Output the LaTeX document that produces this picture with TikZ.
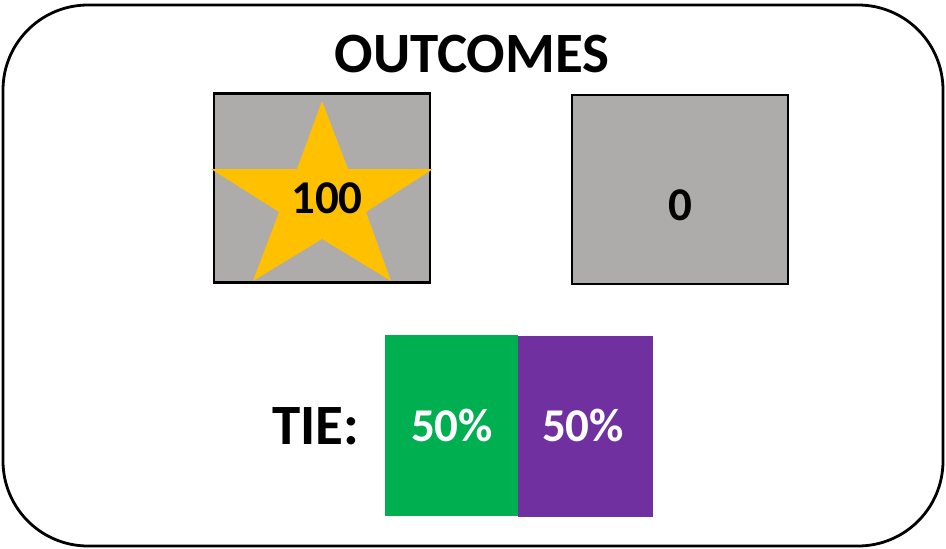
\documentclass[tikz,border=0pt]{standalone}
\usepackage{fontspec}
\setmainfont{Carlito}
\definecolor{boxgrey}{HTML}{AEABAB}
\definecolor{staryellow}{HTML}{FFC000}
\definecolor{tiegreen}{HTML}{00B050}
\definecolor{tiepurple}{HTML}{7030A0}
\begin{document}
\begin{tikzpicture}[x=1pt,y=-1pt,
  greybox/.style={draw=black, line width=2.2pt, fill=boxgrey, minimum width=216pt, minimum height=189pt, inner sep=0pt},
  bar/.style={draw=none, inner sep=0pt, minimum height=181pt},
  big/.style={font=\fontsize{57}{60}\selectfont\bfseries, inner sep=0pt, anchor=base},
  num/.style={font=\fontsize{47}{50}\selectfont\bfseries, inner sep=0pt, anchor=base}]
\useasboundingbox (0,0) rectangle (946,549);
\draw[line width=2.8pt, rounded corners=85pt] (3,5) rectangle (943,546);
\node[big] (title) at (472,72) {OUTCOMES};
\node[greybox] (win) at (322,188) {};
\fill[staryellow] (322,101) -- (348,169) -- (433,169) -- (366,212) -- (391,281)
  -- (322,239) -- (253,281) -- (279,212) -- (211,169) -- (297,169) -- cycle;
\node[num] (hundred) at (327,213) {100};
\node[greybox] (lose) at (680,189.5) {};
\node[num] (zero) at (680,220) {0};
\node[bar, fill=tiegreen, minimum width=133pt] (green) at (451.5,425.5) {};
\node[bar, fill=tiepurple, minimum width=135pt] (purple) at (585.5,426.5) {};
\node[num, text=white] (gpct) at (452,441) {50\%};
\node[num, text=white] (ppct) at (583,441) {50\%};
\node[big] (tie) at (316,444) {TIE:};
\end{tikzpicture}
\end{document}
